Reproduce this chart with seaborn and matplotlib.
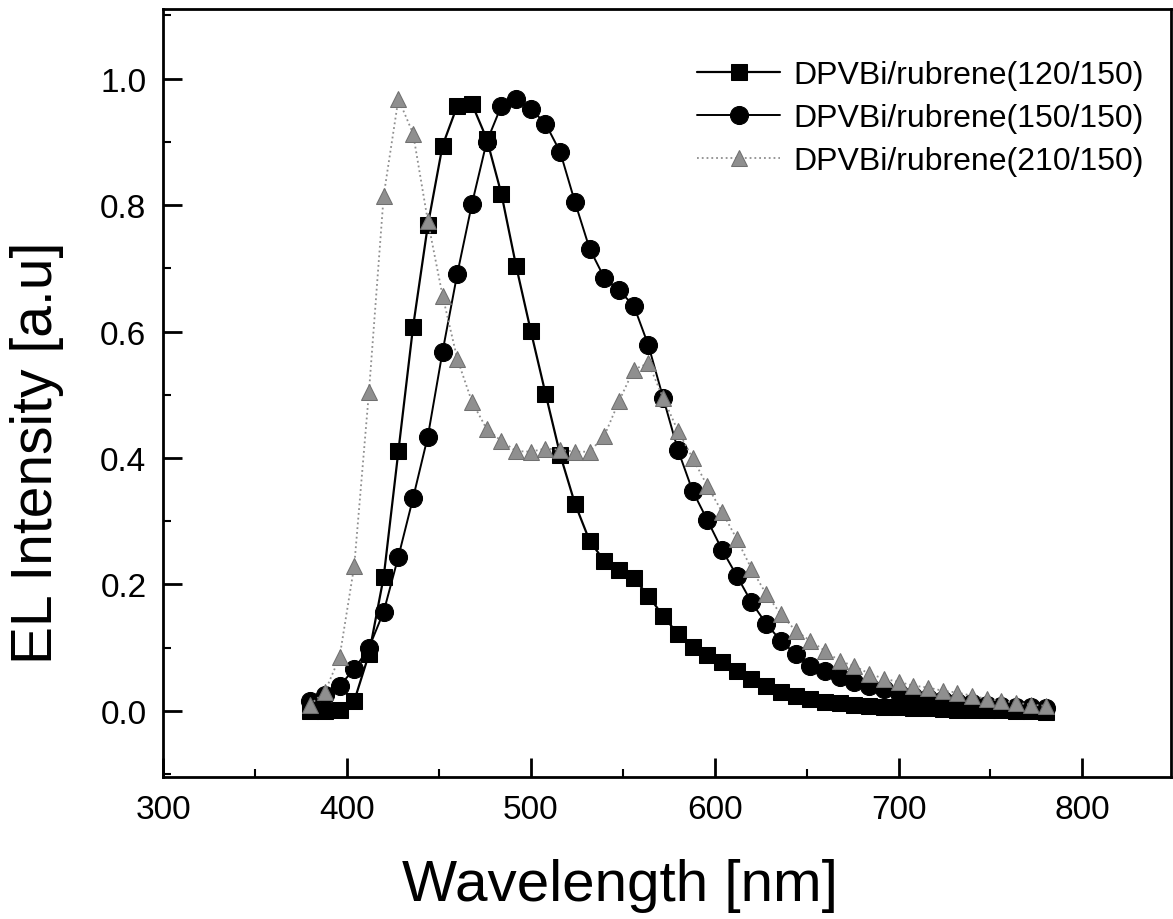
import numpy as np
import pandas as pd
import matplotlib
matplotlib.use("Agg")
import matplotlib.pyplot as plt
import seaborn as sns
from matplotlib.ticker import MultipleLocator, FormatStrFormatter

# ---- data ----
wavelength = list(range(380, 781, 8))  # nm, 51 points

s120 = [0.0, 0.0, 0.002, 0.016, 0.09, 0.212, 0.411, 0.608, 0.768, 0.894,
        0.957, 0.960, 0.905, 0.818, 0.704, 0.601, 0.502, 0.405, 0.328, 0.269,
        0.237, 0.223, 0.210, 0.182, 0.150, 0.122, 0.101, 0.089, 0.078, 0.063,
        0.051, 0.040, 0.030, 0.024, 0.019, 0.014, 0.012, 0.010, 0.008, 0.007,
        0.006, 0.005, 0.004, 0.003, 0.002, 0.002, 0.001, 0.001, 0.0, 0.0, -0.002]

s150 = [0.015, 0.025, 0.040, 0.066, 0.10, 0.157, 0.244, 0.337, 0.434, 0.568,
        0.691, 0.802, 0.90, 0.957, 0.968, 0.952, 0.929, 0.884, 0.805, 0.731,
        0.685, 0.665, 0.641, 0.578, 0.495, 0.413, 0.348, 0.302, 0.255, 0.214,
        0.172, 0.138, 0.111, 0.090, 0.071, 0.063, 0.054, 0.046, 0.040, 0.034,
        0.028, 0.024, 0.020, 0.017, 0.014, 0.012, 0.010, 0.008, 0.007, 0.006, 0.005]

s210 = [0.010, 0.030, 0.085, 0.230, 0.505, 0.815, 0.968, 0.913, 0.775, 0.657,
        0.557, 0.489, 0.446, 0.427, 0.411, 0.410, 0.415, 0.413, 0.410, 0.410,
        0.435, 0.490, 0.540, 0.550, 0.495, 0.443, 0.400, 0.356, 0.315, 0.272,
        0.225, 0.185, 0.153, 0.127, 0.111, 0.095, 0.079, 0.071, 0.059, 0.051,
        0.046, 0.040, 0.037, 0.032, 0.029, 0.024, 0.019, 0.016, 0.013, 0.010, 0.008]

labels = ["DPVBi/rubrene(120/150)", "DPVBi/rubrene(150/150)", "DPVBi/rubrene(210/150)"]

x_ticks = [300, 400, 500, 600, 700, 800]
y_ticks = [0.0, 0.2, 0.4, 0.6, 0.8, 1.0]

# ---- plotting ----
sns.set_style("ticks")
plt.rcParams['font.family'] = ['Liberation Sans', 'DejaVu Sans']
plt.rcParams['text.color'] = 'black'
plt.rcParams['axes.labelcolor'] = 'black'
plt.rcParams['xtick.color'] = 'black'
plt.rcParams['ytick.color'] = 'black'

fig = plt.figure(figsize=(11.73, 9.2), dpi=100)
ax = fig.add_axes([0.139, 0.154, 0.859, 0.835])

df = pd.DataFrame({"wl": wavelength, "a": s120, "b": s150, "c": s210})

sns.lineplot(data=df, x="wl", y="a", ax=ax, color="black", marker="s",
             markersize=12, markeredgecolor="black", linewidth=1.6,
             linestyle="-", label=labels[0])
sns.lineplot(data=df, x="wl", y="b", ax=ax, color="black", marker="o",
             markersize=13, markeredgecolor="black", linewidth=1.4,
             linestyle="-", label=labels[1])
sns.lineplot(data=df, x="wl", y="c", ax=ax, color="#8f8f8f", marker="^",
             markersize=11, markeredgecolor="#707070", linewidth=1.3,
             linestyle=":", label=labels[2])

ax.set_xlim(300, 848)
ax.set_ylim(-0.105, 1.11)
ax.set_xticks(x_ticks)
ax.set_yticks(y_ticks)
ax.xaxis.set_minor_locator(MultipleLocator(50))
ax.yaxis.set_minor_locator(MultipleLocator(0.1))
ax.yaxis.set_major_formatter(FormatStrFormatter('%.1f'))

ax.tick_params(axis='both', which='major', direction='in', length=14, width=2,
               labelsize=24, pad=12, colors='black')
ax.tick_params(axis='both', which='minor', direction='in', length=6, width=1.5)
for sp in ax.spines.values():
    sp.set_linewidth(2)
    sp.set_color('black')
    sp.set_visible(True)

ax.set_xlabel("Wavelength [nm]", fontsize=42, color='black')
ax.set_ylabel("EL Intensity [a.u]", fontsize=41, color='black')
ax.xaxis.set_label_coords(0.453, -0.105)
ax.yaxis.set_label_coords(-0.098, 0.424)

leg = ax.legend(loc="upper right", frameon=False, fontsize=23, handlelength=2.6,
                handletextpad=0.4, labelspacing=0.4, borderaxespad=0.6,
                bbox_to_anchor=(1.005, 0.975))

fig.savefig("out.png", dpi=100)
